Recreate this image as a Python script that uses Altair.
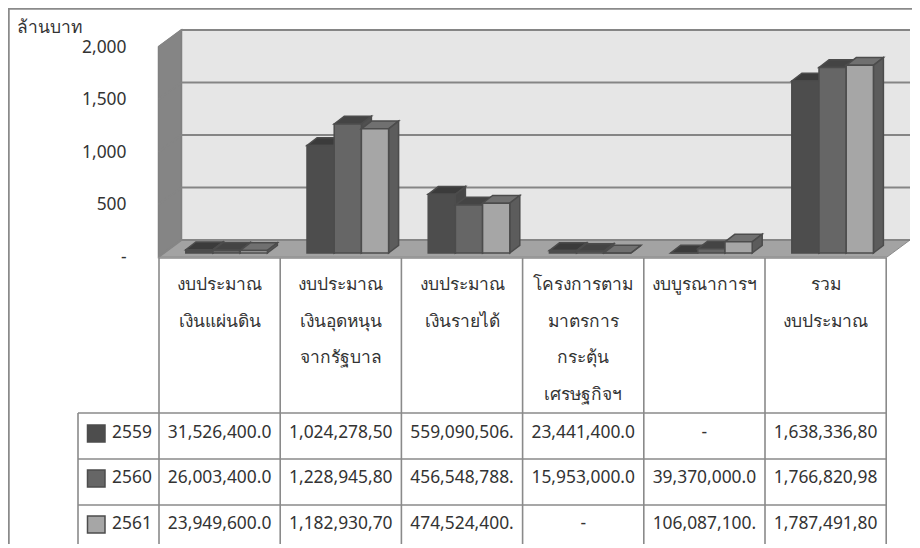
import altair as alt
import pandas as pd

FONT = "Noto Sans"
TEXT = "#333333"
FS = 17.4

years = ["2559", "2560", "2561"]
values_2559 = [31.5264, 1024.2785, 559.0905, 23.4414, 0, 1638.3368]
values_2560 = [26.0034, 1228.9458, 456.5488, 15.953, 39.37, 1766.8209]
values_2561 = [23.9496, 1182.9307, 474.5244, 0, 106.0871, 1787.4918]
labels_2559 = ["31,526,400.0", "1,024,278,50", "559,090,506.", "23,441,400.0", "-", "1,638,336,80"]
labels_2560 = ["26,003,400.0", "1,228,945,80", "456,548,788.", "15,953,000.0", "39,370,000.0", "1,766,820,98"]
labels_2561 = ["23,949,600.0", "1,182,930,70", "474,524,400.", "-", "106,087,100.", "1,787,491,80"]
categories = [
    ["งบประมาณ", "เงินแผ่นดิน"],
    ["งบประมาณ", "เงินอุดหนุน", "จากรัฐบาล"],
    ["งบประมาณ", "เงินรายได้"],
    ["โครงการตาม", "มาตรการ", "กระตุ้น", "เศรษฐกิจฯ"],
    ["งบบูรณาการฯ"],
    ["รวม", "งบประมาณ"],
]
ticks = [0, 500, 1000, 1500, 2000]
unit_title = "ล้านบาท"

front_colors = ["#4d4d4d", "#666666", "#a6a6a6"]
top_colors = ["#3b3b3b", "#444444", "#707070"]
side_colors = ["#474747", "#505050", "#5c5c5c"]
EDGE = "#4c4c4c"
LINE = "#8a8a8a"

W, H = 904, 536
BOTTOM = 8 + H
RIGHT_EDGE = 8 + W
CELL = 121.2
PX_PER_VALUE = 0.105


def ux(px):
    return (px - 159) / CELL


def vy(px):
    return (257 - px) / PX_PER_VALUE


xs = alt.Scale(domain=[ux(8), ux(RIGHT_EDGE)], nice=False, zero=False)
ys = alt.Scale(domain=[vy(BOTTOM), vy(8)], nice=False, zero=False)
AXIS = alt.Axis(
    values=ticks, title=None, domain=False, ticks=False, grid=False,
    labelExpr="datum.value == 0 ? '-' : format(datum.value, ',')",
    labelFont=FONT, labelFontSize=FS, labelColor=TEXT,
    labelPadding=0, offset=-118, labelFlush=False,
)
X = alt.X("x:Q", scale=xs, axis=None)
X2 = alt.X2("x2:Q")
Y = alt.Y("y:Q", scale=ys, axis=AXIS)
Y2 = alt.Y2("y2:Q")

layers = []

# walls
DX, DY = 23 / CELL, 17 / PX_PER_VALUE
LEFT, RIGHT = ux(158.5), ux(887)
top = ticks[-1]
layers.append(
    alt.Chart(pd.DataFrame({"x": [ux(181)], "x2": [ux(910)], "y": [top + DY], "y2": [DY]}))
    .mark_rect(color="#e6e6e6")
    .encode(x=X, x2=X2, y=Y, y2=Y2)
)
layers.append(
    alt.Chart(pd.DataFrame({"x": [LEFT, LEFT + DX], "y": [0, DY], "y2": [top, top + DY]}))
    .mark_area(color="#858585", orient="vertical", stroke="#808080", strokeWidth=1.5)
    .encode(x=X, y=Y, y2=Y2)
)
floor = pd.DataFrame({"y": [0, DY], "x": [LEFT, LEFT + DX], "x2": [RIGHT, RIGHT + DX]})
layers.append(
    alt.Chart(floor)
    .mark_area(color="#a3a3a3", orient="horizontal", stroke="#8a8a8a", strokeWidth=1)
    .encode(y=Y, x=X, x2=X2)
)
grid_rows = []
for t in ticks:
    grid_rows += [
        {"t": t, "i": 0, "x": LEFT, "y": t},
        {"t": t, "i": 1, "x": LEFT + DX, "y": t + DY},
        {"t": t, "i": 2, "x": RIGHT + DX, "y": t + DY},
    ]
layers.append(
    alt.Chart(pd.DataFrame(grid_rows))
    .mark_line(color="#858585", strokeWidth=2)
    .encode(x=alt.X("x:Q", scale=xs, axis=None, sort=None), y=Y, detail="t:N", order="i:Q")
)

# bars
BAR_START = 26.8 / CELL
BAR_W = 27.2 / CELL
BAR_DX = 10 / CELL
BAR_DY = 7.7 / PX_PER_VALUE
BASE = 4 / PX_PER_VALUE

for s, vals in enumerate([values_2559, values_2560, values_2561]):
    tops, sides, fronts = [], [], []
    for c, v in enumerate(vals):
        x0 = c + BAR_START + s * BAR_W
        x1 = x0 + BAR_W
        yv = v + BASE
        tops += [
            {"c": c, "i": 0, "y": yv, "x": x0, "x2": x1},
            {"c": c, "i": 1, "y": yv + BAR_DY, "x": x0 + BAR_DX, "x2": x1 + BAR_DX},
        ]
        sides += [
            {"c": c, "i": 0, "x": x1, "y": BASE, "y2": yv},
            {"c": c, "i": 1, "x": x1 + BAR_DX, "y": BASE + BAR_DY, "y2": yv + BAR_DY},
        ]
        fronts.append({"x": x0, "x2": x1, "y": BASE, "y2": yv})
    layers.append(
        alt.Chart(pd.DataFrame(tops))
        .mark_area(orient="horizontal", color=top_colors[s], stroke=EDGE, strokeWidth=1.5)
        .encode(y=Y, x=X, x2=X2, detail="c:N")
    )
    layers.append(
        alt.Chart(pd.DataFrame(sides))
        .mark_area(orient="vertical", color=side_colors[s], stroke=EDGE, strokeWidth=1.5)
        .encode(x=X, y=Y, y2=Y2, detail="c:N")
    )
    layers.append(
        alt.Chart(pd.DataFrame(fronts))
        .mark_rect(color=front_colors[s], stroke=EDGE, strokeWidth=1.5)
        .encode(x=X, x2=X2, y=Y, y2=Y2)
    )

# table grid
row_lines_px = [413, 459, 505]
col_lines = [ux(159 + CELL * i) for i in range(7)]
h_lines = [{"x": LEFT, "x2": RIGHT, "y": vy(258)}] + [
    {"x": ux(78), "x2": RIGHT, "y": vy(p)} for p in row_lines_px
]
v_lines = [{"x": c, "y": vy(258), "y2": vy(BOTTOM)} for c in col_lines] + [
    {"x": ux(78), "y": vy(413), "y2": vy(BOTTOM)}
]
layers.append(
    alt.Chart(pd.DataFrame(v_lines))
    .mark_rule(color=LINE, strokeWidth=1.6)
    .encode(x=X, y=Y, y2=Y2)
)
layers.append(
    alt.Chart(pd.DataFrame(h_lines))
    .mark_rule(color=LINE, strokeWidth=1.6)
    .encode(x=X, x2=X2, y=Y)
)
# outer frame
layers.append(
    alt.Chart(pd.DataFrame([{"x": ux(8), "x2": ux(RIGHT_EDGE), "y": vy(8)}]))
    .mark_rule(color=LINE, strokeWidth=3.5)
    .encode(x=X, x2=X2, y=Y)
)
layers.append(
    alt.Chart(pd.DataFrame([{"x": ux(8), "y": vy(8), "y2": vy(BOTTOM)}]))
    .mark_rule(color=LINE, strokeWidth=3.5)
    .encode(x=X, y=Y, y2=Y2)
)

# table text
line_px = [285, 322, 358, 395]
row_px = [433, 478, 524]
cells = []
for c, lines in enumerate(categories):
    for i, t in enumerate(lines):
        cells.append({"x": c + 0.5, "y": vy(line_px[i]), "t": t})
for r, labs in enumerate([labels_2559, labels_2560, labels_2561]):
    for c, t in enumerate(labs):
        cells.append({"x": c + 0.5, "y": vy(row_px[r]), "t": t})
    cells.append({"x": ux(132), "y": vy(row_px[r]), "t": years[r]})
layers.append(
    alt.Chart(pd.DataFrame(cells))
    .mark_text(font=FONT, fontSize=FS, color=TEXT, align="center", baseline="middle")
    .encode(x=X, y=Y, text="t:N")
)
layers.append(
    alt.Chart(pd.DataFrame([{"x": ux(17), "y": vy(28), "t": unit_title}]))
    .mark_text(font=FONT, fontSize=FS, color=TEXT, align="left", baseline="middle")
    .encode(x=X, y=Y, text="t:N")
)

# legend keys
for r in range(3):
    key = pd.DataFrame([{"x": ux(87.5), "x2": ux(105), "y": vy(row_px[r] - 8), "y2": vy(row_px[r] + 9)}])
    layers.append(
        alt.Chart(key)
        .mark_rect(color=front_colors[r], stroke=EDGE, strokeWidth=1.5)
        .encode(x=X, x2=X2, y=Y, y2=Y2)
    )

chart = (
    alt.layer(*layers)
    .properties(width=W, height=H, padding=0, background="white", autosize="none")
    .configure_view(stroke=None)
)
chart.save("out.html", embed_options={"renderer": "svg", "actions": False})
